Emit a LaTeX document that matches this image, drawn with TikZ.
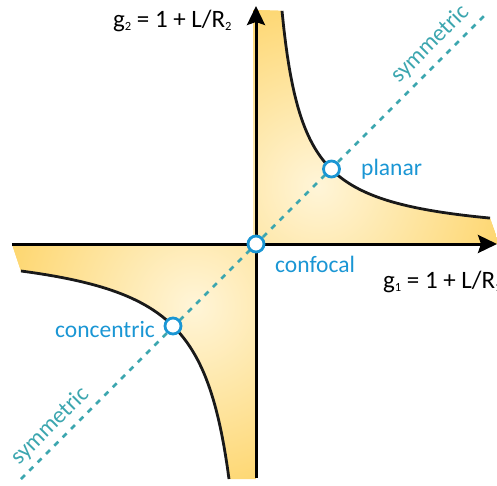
\documentclass[tikz,border=0pt]{standalone}
\usepackage{fontspec}
\setmainfont{Carlito}
\usepackage{tikz}
\usetikzlibrary{arrows.meta}
\usepackage{xcolor}
\definecolor{fillorange}{HTML}{FDD05A}
\definecolor{fillcream}{HTML}{FFF5D8}
\definecolor{labelblue}{HTML}{1A96D4}
\definecolor{symteal}{HTML}{3CA6AF}
\newcommand{\lowsub}[1]{\raisebox{-3pt}{\fontsize{12.5}{12.5}\selectfont #1}}

\begin{document}
\begin{tikzpicture}[x=1pt,y=1pt,
    axis/.style={line width=3pt,-{Stealth[length=19pt,width=18pt,inset=3pt]}},
    curve/.style={line width=2.8pt,black!90},
    symline/.style={line width=2.6pt,symteal,dash pattern=on 5.5pt off 6.3pt},
    spot/.style={draw=labelblue,fill=white,circle,line width=2.8pt,minimum size=16pt,inner sep=0pt},
    bluelabel/.style={labelblue,font=\fontsize{23.5}{28}\selectfont,anchor=base west,inner sep=0pt},
    symlabel/.style={symteal,font=\fontsize{23.5}{28}\selectfont,anchor=base west,inner sep=0pt,rotate=45},
    axislabel/.style={font=\fontsize{25}{29}\selectfont,anchor=base west,inner sep=0pt}]
  \useasboundingbox (-256,-241) rectangle (241,244);

  % stable region, first quadrant
  \begin{scope}
    \clip (-3,234) -- plot[domain=26:234,samples=120] (\x,{4+5041/(\x-4)})
      -- (241,6) -- (241,0) -- (-3,0) -- cycle;
    \fill[fillorange] (-3,0) rectangle (241,234);
    \shade[inner color=fillcream,outer color=fillorange] (62,58) circle (230);
  \end{scope}
  % stable region, third quadrant
  \begin{scope}
    \clip (-244,0) -- plot[domain=-235:-27,samples=120] (\x,{4.75-7613/(4.75-\x)})
      -- (0,-235) -- (0,0) -- cycle;
    \fill[fillorange] (-244,-235) rectangle (0,0);
    \shade[inner color=fillcream,outer color=fillorange] (-62,-62) circle (230);
  \end{scope}

  \draw[curve] plot[domain=26:234,samples=120] (\x,{4+5041/(\x-4)});
  \draw[curve] plot[domain=-235:-27,samples=120] (\x,{4.75-7613/(4.75-\x)});

  \coordinate (xstart) at (-244,0);
  \coordinate (xend) at (241,0);
  \coordinate (ystart) at (0,-234);
  \coordinate (yend) at (0,238);
  \draw[axis] (xstart) -- (xend);
  \draw[axis] (ystart) -- (yend);

  \coordinate (symlow) at (-235,-235);
  \coordinate (symhigh) at (232,232);
  \draw[symline] (symlow) -- (symhigh);

  \node[spot] (confocal) at (0,0) {};
  \node[spot] (planar) at (75.5,75) {};
  \node[spot] (concentric) at (-83,-82) {};

  \node[bluelabel] (planartext) at (105,69) {planar};
  \node[bluelabel] (confocaltext) at (19,-28) {confocal};
  \node[bluelabel] (concentrictext) at (-201,-93) {concentric};
  \node[symlabel] (symuppertext) at (143,160) {symmetric};
  \node[symlabel] (symlowertext) at (-237,-222) {symmetric};

  \node[axislabel] (gtwo) at (-143,216) {g\lowsub{2} = 1 + L/R\lowsub{2}};
  \node[axislabel] (gone) at (127,-44) {g\lowsub{1} = 1 + L/R\lowsub{1}};
\end{tikzpicture}
\end{document}
